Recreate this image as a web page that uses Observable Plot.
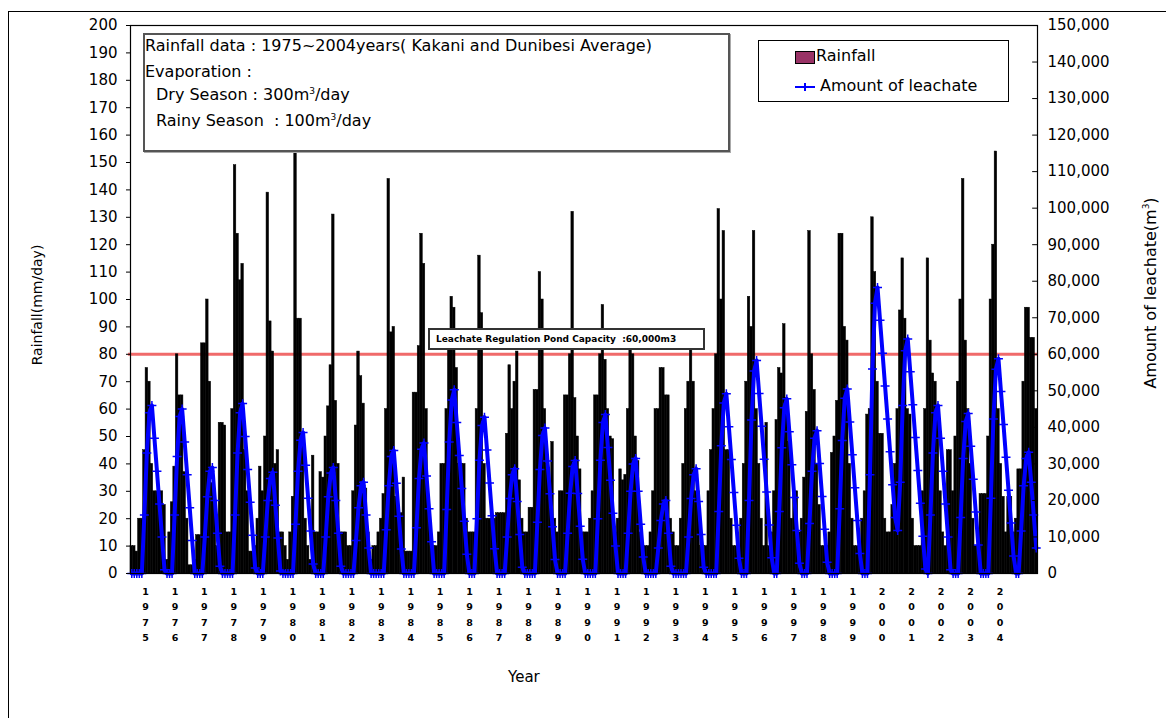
<!DOCTYPE html>
<html><head><meta charset="utf-8">
<script src="https://cdn.jsdelivr.net/npm/d3@7"></script>
<script src="https://cdn.jsdelivr.net/npm/@observablehq/plot@0.6"></script>
<style>
body{margin:0;background:#fff;}
#wrap{position:relative;width:1166px;height:718px;overflow:hidden;font-family:"DejaVu Sans",sans-serif;color:#000;}
#outer{position:absolute;left:8px;top:11px;width:1200px;height:760px;border:1.5px solid #000;box-sizing:border-box;}
#chart{position:absolute;left:0;top:0;}
.abs{position:absolute;white-space:nowrap;}
#info{left:143px;top:33px;width:587px;height:119px;border:2px solid #555;box-shadow:1px 1px 0 #aaa;background:#fff;box-sizing:border-box;}
#legend{left:758px;top:40px;width:251px;height:62px;border:1.5px solid #000;background:#fff;box-sizing:border-box;}
#cap{left:428px;top:328px;width:277px;height:22px;border:2px solid #333;background:#fff;box-sizing:border-box;font-size:9px;font-weight:bold;line-height:18px;padding-left:6px;}
.t16{font-size:16px;}
</style>
</head><body>
<div id="wrap">
<div id="outer"></div>
<div id="chart"></div>
<div class="abs" id="info"></div>
<div class="abs t16" style="left:145px;top:36px;">Rainfall data : 1975~2004years( Kakani and Dunibesi Average)</div>
<div class="abs t16" style="left:145px;top:62px;">Evaporation :</div>
<div class="abs t16" style="left:156px;top:85px;">Dry Season : 300m<sup style="font-size:9px">3</sup>/day</div>
<div class="abs t16" style="left:156px;top:111px;">Rainy Season&nbsp;&nbsp;: 100m<sup style="font-size:9px">3</sup>/day</div>
<div class="abs" id="legend"></div>
<div class="abs" style="left:795px;top:51px;width:18px;height:11px;background:#993366;border:1px solid #000;"></div>
<div class="abs t16" style="left:816px;top:46px;">Rainfall</div>
<div class="abs" style="left:795px;top:86px;width:20px;height:2px;background:#0000ff;"></div>
<div class="abs" style="left:804px;top:83px;width:2px;height:8px;background:#0000ff;"></div>
<div class="abs t16" style="left:820px;top:76px;">Amount of leachate</div>
<div class="abs" id="cap">Leachate Regulation Pond Capacity&nbsp;&nbsp;:60,000m3</div>
<div class="abs" style="left:37px;top:305px;transform:translate(-50%,-50%) rotate(-90deg);font-size:14px;">Rainfall(mm/day)</div>
<div class="abs" style="left:1150px;top:293px;transform:translate(-50%,-50%) rotate(-90deg);font-size:16px;">Amount of leachate(m<sup style="font-size:9px">3</sup>)</div>
<div class="abs" style="left:508px;top:668px;font-size:15px;">Year</div>
</div>
<script>
const years = [1975,1976,1977,1978,1979,1980,1981,1982,1983,1984,1985,1986,1987,1988,1989,1990,1991,1992,1993,1994,1995,1996,1997,1998,1999,2000,2001,2002,2003,2004];
const yearLabels = ["1975","1976","1977","1978","1979","1980","1981","1982","1983","1984","1985","1986","1987","1988","1989","1990","1991","1992","1993","1994","1995","1996","1997","1998","1999","2000","2001","2002","2003","2004"];
// peak daily rainfall (mm/day) in each month, Jan..Dec, per year
const rainfall = [
 [10,10,8,20,20,45,75,70,40,30,30,30],
 [30,25,5,15,26,39,80,65,65,37,20,3],
 [3,5,14,14,84,84,100,70,33,26,10,55],
 [55,54,15,15,60,149,124,107,113,45,30,8],
 [8,10,20,39,30,50,139,92,81,40,45,15],
 [15,10,5,15,28,155,93,93,48,20,10,5],
 [43,15,15,37,35,50,61,76,131,63,40,15],
 [15,15,10,10,30,54,81,72,62,31,15,5],
 [10,10,15,20,29,60,144,88,90,28,22,22],
 [35,8,8,8,66,66,83,124,113,60,25,10],
 [10,10,15,40,40,60,85,101,97,75,40,40],
 [40,20,15,15,15,60,116,95,40,20,20,20],
 [20,22,22,22,22,51,76,60,70,81,34,20],
 [15,15,24,24,67,67,110,100,60,40,30,48],
 [20,15,30,30,65,65,80,132,64,50,38,15],
 [15,15,20,30,65,65,80,98,78,60,50,49],
 [15,20,38,34,36,60,87,80,50,41,15,10],
 [10,10,15,30,60,60,75,75,65,65,20,15],
 [10,10,20,40,60,70,83,70,30,30,10,10],
 [10,30,45,60,80,133,100,125,45,45,20,10],
 [10,10,20,40,70,101,90,125,60,40,20,10],
 [55,10,15,30,56,75,73,91,64,48,20,30],
 [30,15,20,35,59,125,80,67,40,25,10,10],
 [10,15,44,50,63,124,124,90,85,40,20,10],
 [10,10,20,30,58,60,130,110,70,51,51,20],
 [15,15,25,40,60,96,115,93,60,58,20,10],
 [10,10,30,60,115,85,73,70,61,30,15,10],
 [45,45,30,50,70,100,144,85,60,40,20,10],
 [10,29,29,29,50,100,120,154,60,40,28,15],
 [28,28,15,20,38,38,70,97,97,86,86,60]
];
// amount of leachate (thousand m3) mid-month, Jan..Dec, per year
const leachate = [
 [0,0,0,0,0,16,33,44,46,37,28,19],
 [10,1,0,0,0,16,32,43,45,36,27,18],
 [9,0,0,0,0,10,21,28,29,20,11,2],
 [0,0,0,0,0,16,33,44,46.5,37.5,28.5,19.5],
 [10.5,1.5,0,0,0,10,20,26,27.7,18.7,9.7,0.7],
 [0,0,0,0,0,13.5,28,36.5,38.6,29.6,20.6,11.6],
 [2.6,0,0,0,0,10,21,27.5,29,20,11,2],
 [0,0,0,0,0,9,18,24,25,16,7,0],
 [0,0,0,0,0,12,24,32,33.7,24.7,15.7,6.7],
 [0,0,0,0,0,12.5,26,34,35.7,26.7,17.7,8.7],
 [0,0,0,0,0,17.5,36,47.5,50.3,41.3,32.3,23.3],
 [14.3,5.3,0,0,0,15,31,40.5,42.8,33.8,24.8,15.8],
 [6.8,0,0,0,0,10,20.5,27,28.7,19.7,10.7,1.7],
 [0,0,0,0,0,14,28.5,37.8,39.8,30.8,21.8,12.8],
 [3.8,0,0,0,0,11,22,29.3,30.9,21.9,12.9,3.9],
 [0,0,0,0,0,15,31,41.3,43.5,34.5,25.5,16.5],
 [7.5,0,0,0,0,11,22.5,30,31.5,22.5,13.5,4.5],
 [0,0,0,0,0,7,14.5,19,20,11,2,0],
 [0,0,0,0,0,10,20.5,27,28.7,19.7,10.7,1.7],
 [0,0,0,0,0,17,35,46.7,49.2,40.2,31.2,22.2],
 [13.2,4.2,0,0,0,20,42,55.4,58.3,49.3,40.3,31.3],
 [22.3,13.3,4.3,0,0,17,34.4,45.4,47.8,38.8,29.8,20.8],
 [11.8,2.8,0,0,0,13.7,28,37,39.1,30.1,21.1,12.1],
 [3.1,0,0,0,0,17.7,36.4,48,50.5,41.5,32.5,23.5],
 [14.5,5.5,0,0,0,27,56,74,78.3,69.3,60.3,51.3],
 [42.3,33.3,24.3,15.3,11.8,25,46,61,64.2,55.2,46.2,37.2],
 [28.2,19.2,10.2,1.2,0,16,33,44,46,37,28,19],
 [10,1,0,0,0,15.3,31.5,41.6,43.8,34.8,25.8,16.8],
 [7.8,0,0,0,0,20.6,42.3,55.9,58.8,49.8,40.8,31.8],
 [22.8,13.8,4.8,0,0,11.6,24,31.5,33.2,25,16,7]
];
const leftTicks = [0,10,20,30,40,50,60,70,80,90,100,110,120,130,140,150,160,170,180,190,200];
const rightTicks = [0,10000,20000,30000,40000,50000,60000,70000,80000,90000,100000,110000,120000,130000,140000,150000];
const capacity = 60000;

const ratio = 150000 / 200; // right axis units per left axis unit
const labelStartDay = 181, labelStepDays = 356;

const rainRows = [];
const leachRows = [];
years.forEach((yr, i) => {
  rainfall[i].forEach((v, m) => rainRows.push({x1: yr + m / 12, x2: yr + (m + 1) / 12, v}));
  leachate[i].forEach((v, m) => leachRows.push({x: yr + (m + 0.5) / 12, v: v * 1000 / ratio}));
});
const labelRows = yearLabels.map((s, i) => ({x: years[0] + (labelStartDay + labelStepDays * i) / 365.25, t: s.split("").join("\n")}));

const fmt = d3.format(",");
const chart = Plot.plot({
  width: 1166, height: 718,
  marginLeft: 130, marginRight: 129, marginTop: 25, marginBottom: 145,
  style: {fontFamily: "DejaVu Sans, sans-serif", fontSize: "15px", background: "transparent", color: "#000"},
  x: {domain: [1975, 2005], axis: null},
  y: {domain: [0, 200], axis: null},
  marks: [
    Plot.ruleY([capacity / ratio], {stroke: "#f06a6a", strokeWidth: 3, x1: 1974.93, x2: 2005}),
    Plot.rectY(rainRows, {x1: "x1", x2: "x2", y: "v", fill: "#000", stroke: "#000", strokeWidth: 0.5, inset: 0}),
    Plot.line(leachRows, {x: "x", y: "v", stroke: "#0000ff", strokeWidth: 4}),
    Plot.dot(leachRows, {x: "x", y: "v", symbol: "plus", r: 3, stroke: "#0000ff", strokeWidth: 1.5}),
    Plot.frame({stroke: "#000", strokeWidth: 1.2}),
    Plot.axisY(leftTicks, {anchor: "left", tickSize: 4, tickPadding: 9, label: null, fontSize: 15}),
    Plot.ruleY(rightTicks.map(v => v / ratio), {x1: 2004.84, x2: 2005, stroke: "#000"}),
    Plot.axisY(rightTicks.map(v => v / ratio), {anchor: "right", tickSize: 0, tickPadding: 10, label: null, fontSize: 15, tickFormat: d => fmt(Math.round(d * ratio))}),
    Plot.text(labelRows, {x: "x", y: 0, dy: 11, text: "t", lineAnchor: "top", lineHeight: 1.6, fontSize: 9.5, fontWeight: "bold"})
  ]
});
document.getElementById("chart").appendChild(chart);
</script>
</body></html>
